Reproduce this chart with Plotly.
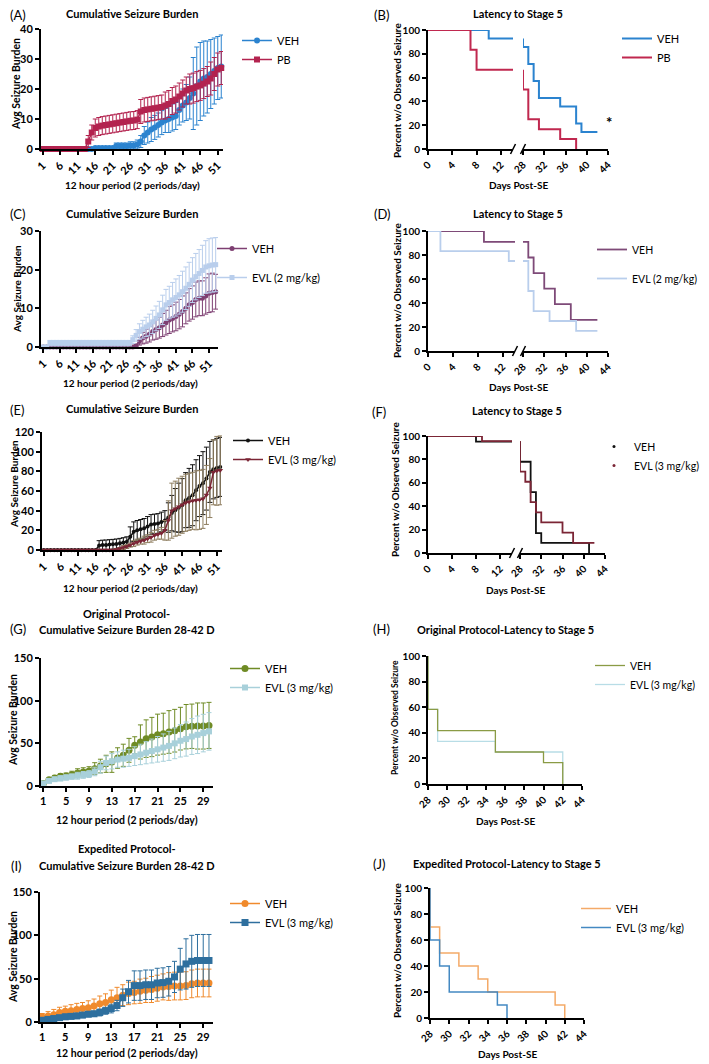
import plotly.graph_objects as go

W, H = 709, 1064
OX, OY = 8, 8  # page body margin: figure is drawn 8px in from the window corner
FONT = "Lato"

# ---------------- data ----------------
PERIODS_52 = list(range(1, 53))
PERIODS_53 = list(range(1, 54))
PERIODS_30 = list(range(1, 31))

TICKS_52 = [1, 6, 11, 16, 21, 26, 31, 36, 41, 46, 51]
TICKS_30 = [1, 5, 9, 13, 17, 21, 25, 29]
TICKS_EARLY = [0, 4, 8, 12]
TICKS_LATE = [28, 32, 36, 40, 44]
TICKS_28_44 = [28, 30, 32, 34, 36, 38, 40, 42, 44]

# (A) cumulative, VEH vs PB
A_VEH_MEAN = [0, 0, 0, 0, 0, 0, 0, 0, 0, 0, 0, 0, 0, 0, 0,
              0.3, 0.3, 0.3, 0.3, 0.3, 0.3,
              1.0, 1.0, 1.0, 1.0, 1.2, 1.2, 1.5,
              2.5, 4.5, 5.5, 6.5, 7.2, 8.0, 8.8, 9.5, 10.0, 10.5, 11.0, 13.0,
              14.5, 15.5, 17.0, 18.5, 21.0, 22.5, 23.5, 24.0, 25.0, 26.0, 27.0, 27.5]
A_VEH_SEM = [0, 0, 0, 0, 0, 0, 0, 0, 0, 0, 0, 0, 0, 0, 0,
             0.3, 0.3, 0.3, 0.3, 0.3, 0.3,
             1.0, 1.0, 1.0, 1.0, 1.2, 1.2, 1.5,
             2.0, 3.0, 3.5, 4.0, 4.0, 4.0, 4.0, 4.0, 4.5, 4.5, 4.5, 5.0,
             5.5, 6.0, 7.0, 12.0, 13.0, 13.0, 12.5, 12.0, 11.5, 11.0, 10.5, 10.5]
A_PB_MEAN = [0, 0, 0, 0, 0, 0, 0, 0, 0, 0, 0, 0, 0,
             2.5, 5.5, 7.0, 7.5, 7.8, 8.0, 8.2, 8.4, 8.6, 8.8, 9.0, 9.2, 9.4, 9.5, 9.8,
             12.5, 13.0, 13.2, 13.4, 13.6, 13.8, 14.0, 14.5, 15.0, 16.0, 16.5, 17.5,
             18.5, 19.5, 20.0, 20.3, 20.8, 21.2, 21.8, 22.5, 23.5, 25.0, 26.5, 27.0]
A_PB_SEM = [0, 0, 0, 0, 0, 0, 0, 0, 0, 0, 0, 0, 0,
            2.0, 2.5, 3.0, 3.0, 3.0, 3.0, 3.0, 3.0, 3.0, 3.0, 3.0, 3.0, 3.0, 3.0, 3.0,
            4.0, 4.0, 4.0, 4.0, 4.0, 4.0, 4.0, 4.5, 4.5, 4.5, 4.5, 4.5, 4.5, 4.5,
            5.0, 5.0, 5.0, 5.0, 5.0, 5.0, 5.5, 5.5, 5.5, 5.5]

# (B) latency, VEH vs PB (broken x axis)
B_VEH_EARLY_DAYS = [0, 10, 14]
B_VEH_EARLY_PCT = [100, 92.9, 92.9]
B_VEH_LATE_DAYS = [28, 28, 29, 30, 31, 35, 38, 39, 42]
B_VEH_LATE_PCT = [92.9, 85.7, 71.4, 57.1, 42.9, 35.7, 21.4, 14.3, 14.3]
B_PB_EARLY_DAYS = [0, 7, 8, 14]
B_PB_EARLY_PCT = [100, 83.3, 66.7, 66.7]
B_PB_LATE_DAYS = [28, 28, 29, 31, 35, 38]
B_PB_LATE_PCT = [66.7, 50, 25, 16.7, 8.3, 0]

# (C) cumulative, VEH vs EVL 2 mg/kg
C_VEH_MEAN = [0, 0, 0, 0, 0, 0, 0, 0, 0, 0, 0, 0, 0, 0, 0, 0, 0, 0, 0, 0,
              0, 0, 0, 0, 0, 0, 0, 0,
              0.3, 1.5, 2.3, 2.8, 3.3, 4.0, 4.5, 5.0, 5.7, 6.3, 7.0, 7.4, 7.9,
              8.5, 9.2, 10.0, 10.9, 11.5, 12.3, 12.6, 12.6, 13.2, 13.9, 14.1, 14.3]
C_VEH_SEM = [0, 0, 0, 0, 0, 0, 0, 0, 0, 0, 0, 0, 0, 0, 0, 0, 0, 0, 0, 0,
             0, 0, 0, 0, 0, 0, 0, 0,
             0.3, 1.0, 1.5, 1.8, 2.0, 2.2, 2.5, 2.7, 3.0, 3.2, 3.5, 3.5, 3.7,
             3.8, 4.0, 4.0, 4.2, 4.3, 4.5, 4.5, 4.5, 4.7, 5.0, 5.0, 4.5]
C_EVL_MEAN = [0, 0,
              1.0, 1.0, 1.0, 1.0, 1.0, 1.0, 1.0, 1.0, 1.0, 1.0, 1.0, 1.0, 1.0,
              1.0, 1.0, 1.0, 1.0, 1.0, 1.0, 1.0, 1.0, 1.0, 1.0, 1.0, 1.0,
              1.9, 3.0, 4.0, 4.6, 5.2, 5.7, 6.5, 7.4, 8.3, 9.6, 10.9, 11.5, 12.2,
              12.8, 13.5, 14.3, 15.2, 16.2, 17.3, 18.2, 19.0, 19.8, 20.7, 21.0, 21.2, 21.3]
C_EVL_SEM = [0, 0,
             0.7, 0.7, 0.7, 0.7, 0.7, 0.7, 0.7, 0.7, 0.7, 0.7, 0.7, 0.7, 0.7,
             0.7, 0.7, 0.7, 0.7, 0.7, 0.7, 0.7, 0.7, 0.7, 0.7, 0.7, 0.7,
             1.0, 1.5, 2.0, 2.3, 2.5, 2.8, 3.0, 3.2, 3.5, 3.8, 4.0, 4.2, 4.5,
             4.8, 5.0, 5.3, 5.5, 5.7, 5.8, 6.0, 6.2, 6.5, 6.8, 7.0, 7.0, 7.0]

# (D) latency, VEH vs EVL 2 mg/kg
D_VEH_EARLY_DAYS = [0, 9, 14]
D_VEH_EARLY_PCT = [100, 90.9, 90.9]
D_VEH_LATE_DAYS = [28, 29, 30, 32, 34, 37, 42]
D_VEH_LATE_PCT = [90.9, 77.9, 64.9, 51.9, 39.0, 26.0, 26.0]
D_EVL_EARLY_DAYS = [0, 2, 13, 14]
D_EVL_EARLY_PCT = [100, 83.3, 75, 75]
D_EVL_LATE_DAYS = [28, 29, 30, 33, 38, 42]
D_EVL_LATE_PCT = [75, 50, 33.3, 25, 16.7, 16.7]

# (E) cumulative, VEH vs EVL 3 mg/kg
E_VEH_MEAN = [0, 0, 0, 0, 0, 0, 0, 0, 0, 0, 0, 0, 0, 0, 0, 0,
              4.5, 5.0, 5.2, 5.5, 5.8, 6.2, 6.8, 7.5, 8.4,
              13.5, 18.6, 20.0, 21.0, 22.0, 24.0, 26.0, 26.5, 27.0, 28.5,
              30.0, 33.0, 37.5, 40.5, 43.0, 45.6, 50.7, 53.0, 55.7, 60.8,
              65.0, 68.0, 72.6, 79.4, 82.0, 83.5, 84.5]
E_VEH_SEM = [0, 0, 0, 0, 0, 0, 0, 0, 0, 0, 0, 0, 0, 0, 0, 0,
             5, 5, 5, 5, 5, 5, 5, 5, 5,
             10, 10, 10, 10, 10, 10, 10, 10, 10, 10, 10,
             15, 18, 22, 25, 27, 28, 30, 31, 31, 31, 32, 32, 31, 30, 30, 30]
E_EVL_MEAN = [0, 0, 0, 0, 0, 0, 0, 0, 0, 0, 0, 0, 0, 0, 0, 0, 0, 0, 0, 0, 0,
              0.5, 1.5, 2.5, 3.5, 5.0, 6.5, 8.0, 9.0, 10.0,
              11.5, 13.0, 15.0, 16.0, 17.0, 20.0, 30.0, 40.0, 42.0, 44.0,
              46.0, 48.0, 49.0, 50.0, 50.5, 51.0, 52.0, 56.0, 63.0, 79.0, 80.5, 81.0]
E_EVL_SEM = [0, 0, 0, 0, 0, 0, 0, 0, 0, 0, 0, 0, 0, 0, 0, 0, 0, 0, 0, 0, 0,
             1, 1, 2, 2, 2, 3, 3, 3,
             4, 4, 5, 5, 5, 6, 10,
             20, 28, 28, 29, 29, 29, 29, 29, 30, 30, 30, 30, 30, 33, 35, 35]

# (F) latency, VEH vs EVL 3 mg/kg
F_VEH_EARLY_DAYS = [0, 8, 14]
F_VEH_EARLY_PCT = [100, 95.2, 95.2]
F_VEH_LATE_DAYS = [28, 28, 30, 31, 32, 41]
F_VEH_LATE_PCT = [95.2, 78, 52, 17, 8.7, 0]
F_EVL_EARLY_DAYS = [0, 9, 14]
F_EVL_EARLY_PCT = [100, 95.7, 95.7]
F_EVL_LATE_DAYS = [28, 28, 29, 30, 31, 32, 36, 38, 42]
F_EVL_LATE_PCT = [95.7, 69.6, 60.9, 43.5, 34.8, 26.1, 17.4, 8.7, 8.7]

# (G) original protocol cumulative 28-42 D
G_VEH_MEAN = [3.0, 7.4, 9.4, 11.3, 11.7, 13.3, 15.2, 16.4, 17.6, 20.3,
              23.4, 26.0, 28.0, 32.8, 36.0, 41.8, 47.7, 51.6, 55.5, 57.4,
              60.2, 61.3, 63.3, 64.8, 67.2, 69.5, 70.0, 70.3, 70.3, 71.0]
G_VEH_SEM = [1, 2, 3, 3, 3.5, 4, 5, 5, 5, 7,
             8, 10, 12, 12, 13, 14, 10, 20, 22, 23,
             24, 24, 25, 25, 25, 26, 26, 27, 27, 27]
G_EVL_MEAN = [3, 6, 8, 9, 10, 11, 12, 13, 14, 17,
              22, 27, 29, 31, 32, 33, 35, 37, 39, 41,
              43, 45, 47, 50, 53, 55, 58, 60, 62, 64]
G_EVL_SEM = [1, 2, 2, 3, 3, 3, 4, 4, 4, 5,
             7, 8, 9, 9, 10, 10, 11, 12, 13, 14,
             15, 16, 17, 18, 19, 20, 21, 22, 22, 22]

# (H) original protocol latency
H_VEH_DAYS = [28, 28, 29, 35, 40, 42]
H_VEH_PCT = [100, 58.3, 41.7, 25, 16.7, 0]
H_EVL_DAYS = [28, 28, 29, 35, 42]
H_EVL_PCT = [100, 58.3, 33.3, 25, 0]

# (I) expedited protocol cumulative 28-42 D
I_VEH_MEAN = [5.8, 7.0, 8.5, 11.0, 12.3, 13.0, 14.5, 15.5, 16.5, 18.5,
              21.0, 22.5, 25.8, 28.0, 31.0, 33.0, 34.0, 35.5, 36.5, 37.5,
              39.0, 40.5, 41.0, 41.5, 41.5, 42.0, 44.0, 45.0, 45.0, 45.0]
I_VEH_SEM = [4, 5, 6, 6, 6, 7, 7, 7, 8, 8,
             9, 10, 11, 12, 12, 13, 13, 14, 14, 15,
             15, 15, 16, 16, 16, 16, 16, 16, 16, 16]
I_EVL_MEAN = [2, 3, 4, 5, 6, 6.5, 7, 8, 9, 9.5,
              11, 13, 15.5, 19, 28, 35, 42, 42, 43, 43,
              45, 45.5, 47, 52, 61, 67, 70, 71, 71, 71]
I_EVL_SEM = [2, 2, 2, 2, 3, 3, 3, 3, 3, 3,
             4, 4, 5, 6, 10, 13, 17, 17, 17, 17,
             17, 17, 17, 18, 24, 29, 30, 30, 30, 30]

# (J) expedited protocol latency
J_VEH_DAYS = [28, 28, 29, 31, 33, 34, 41, 42]
J_VEH_PCT = [100, 70, 50, 40, 30, 20, 10, 0]
J_EVL_DAYS = [28, 28, 29, 30, 35, 36]
J_EVL_PCT = [100, 60, 40, 20, 10, 0]


# ---------------- helpers (positions in window pixels) ----------------
def fx(x):
    return (x - OX) / W


def fy(y):
    return 1 - (y - OY) / H


def axis_base(size):
    return dict(showline=True, linecolor="black", linewidth=2, ticks="outside",
                ticklen=4, tickwidth=2, tickcolor="black", showgrid=False,
                zeroline=False, automargin=False, fixedrange=True,
                tickfont=dict(family=FONT, size=size, color="black", weight="bold"))


def make_x(left, right, anchor, rng, tickvals, angle, size=11):
    ax = axis_base(size)
    ax.update(domain=[fx(left), fx(right)], anchor=anchor, range=rng,
              tickmode="array", tickvals=tickvals, tickangle=angle)
    return ax


def make_y(top, bottom, anchor, rng, tickvals, size=11):
    ax = axis_base(size)
    ax.update(domain=[fy(bottom), fy(top)], anchor=anchor, range=rng,
              tickmode="array", tickvals=tickvals)
    return ax


def cum_trace(x, mean, sem, color, symbol, size, xa, ya, name, legend, err_color=None):
    minus = [min(s, m) for s, m in zip(sem, mean)]
    return go.Scatter(
        x=x, y=mean, mode="lines+markers", name=name, legend=legend,
        legendgroup=legend + name,
        line=dict(color=color, width=1.5),
        marker=dict(symbol=symbol, size=size, color=color),
        error_y=dict(type="data", array=sem, arrayminus=minus,
                     color=err_color or color, thickness=1, width=2.5),
        xaxis=xa, yaxis=ya, cliponaxis=False)


def surv(days, pct, color, width, xa, ya, name, legend, show=True, rank=1000):
    return go.Scatter(
        x=days, y=pct, mode="lines", name=name, legend=legend,
        legendgroup=legend + name, showlegend=show, legendrank=rank,
        line=dict(color=color, width=width, shape="hv"),
        xaxis=xa, yaxis=ya, cliponaxis=False)


def make_legend(text_x, first_y, gap=0, size=11):
    return dict(x=fx(text_x - 40), y=fy(first_y - 13), xanchor="left",
                yanchor="top", bgcolor="rgba(0,0,0,0)", itemwidth=30,
                tracegroupgap=gap,
                font=dict(family=FONT, size=size, color="black"))


def note(text, x, y, size, bold=True, xanchor="center", angle=0):
    return dict(text=f"<b>{text}</b>" if bold else text, x=fx(x), y=fy(y),
                xref="paper", yref="paper", showarrow=False, xanchor=xanchor,
                yanchor="middle", textangle=angle,
                font=dict(family=FONT, size=size, color="black"))


def slash(x, y):
    return dict(type="line", xref="paper", yref="paper",
                x0=fx(x - 2.5), y0=fy(y + 5), x1=fx(x + 2.5), y1=fy(y - 5),
                line=dict(color="black", width=1.5))


# ---------------- figure ----------------
fig = go.Figure()

BLUE, CRIMSON = "#2B83CF", "#B3234F"
PURPLE, PALE_BLUE = "#7E3F72", "#B9CEEC"
BLACK, MAROON, TAN = "#111111", "#7B2535", "#8E7D5E"
OLIVE, TEAL = "#6F8B25", "#A8D0DA"
ORANGE, STEEL = "#F08A2C", "#2E6F9E"

# A
fig.add_trace(cum_trace(PERIODS_52, A_VEH_MEAN, A_VEH_SEM, BLUE, "circle", 6, "x", "y", "VEH", "legend"))
fig.add_trace(cum_trace(PERIODS_52, A_PB_MEAN, A_PB_SEM, CRIMSON, "square", 6, "x", "y", "PB", "legend"))

# B
fig.add_trace(surv(B_VEH_EARLY_DAYS, B_VEH_EARLY_PCT, BLUE, 2, "x2", "y2", "VEH", "legend2"))
fig.add_trace(surv(B_VEH_LATE_DAYS, B_VEH_LATE_PCT, BLUE, 2, "x3", "y2", "VEH", "legend2", False))
fig.add_trace(surv(B_PB_EARLY_DAYS, B_PB_EARLY_PCT, "#C0284F", 2, "x2", "y2", "PB", "legend2"))
fig.add_trace(surv(B_PB_LATE_DAYS, B_PB_LATE_PCT, "#C0284F", 2, "x3", "y2", "PB", "legend2", False))

# C
fig.add_trace(cum_trace(PERIODS_53, C_VEH_MEAN, C_VEH_SEM, PURPLE, "circle", 5, "x4", "y3", "VEH", "legend3"))
fig.add_trace(cum_trace(PERIODS_53, C_EVL_MEAN, C_EVL_SEM, PALE_BLUE, "square", 5, "x4", "y3", "EVL (2 mg/kg)", "legend3"))

# D
fig.add_trace(surv(D_VEH_EARLY_DAYS, D_VEH_EARLY_PCT, "#7E4A78", 1.8, "x5", "y4", "VEH", "legend4"))
fig.add_trace(surv(D_VEH_LATE_DAYS, D_VEH_LATE_PCT, "#7E4A78", 1.8, "x6", "y4", "VEH", "legend4", False))
fig.add_trace(surv(D_EVL_EARLY_DAYS, D_EVL_EARLY_PCT, PALE_BLUE, 1.8, "x5", "y4", "EVL (2 mg/kg)", "legend4"))
fig.add_trace(surv(D_EVL_LATE_DAYS, D_EVL_LATE_PCT, PALE_BLUE, 1.8, "x6", "y4", "EVL (2 mg/kg)", "legend4", False))

# E
fig.add_trace(cum_trace(PERIODS_52, E_VEH_MEAN, E_VEH_SEM, BLACK, "circle", 4, "x7", "y5", "VEH", "legend5"))
fig.add_trace(cum_trace(PERIODS_52, E_EVL_MEAN, E_EVL_SEM, MAROON, "triangle-down", 5, "x7", "y5", "EVL (3 mg/kg)", "legend5", TAN))

# F
fig.add_trace(surv(F_VEH_EARLY_DAYS, F_VEH_EARLY_PCT, BLACK, 1.8, "x8", "y6", "VEH", "legend6", False))
fig.add_trace(surv(F_VEH_LATE_DAYS, F_VEH_LATE_PCT, BLACK, 1.8, "x9", "y6", "VEH", "legend6", False))
fig.add_trace(surv(F_EVL_EARLY_DAYS, F_EVL_EARLY_PCT, MAROON, 1.8, "x8", "y6", "EVL (3 mg/kg)", "legend6", False))
fig.add_trace(surv(F_EVL_LATE_DAYS, F_EVL_LATE_PCT, MAROON, 1.8, "x9", "y6", "EVL (3 mg/kg)", "legend6", False))
fig.add_trace(go.Scatter(x=[None], y=[None], mode="markers", name="VEH", legend="legend6",
                         legendgroup="l6a", marker=dict(color=BLACK, size=3), xaxis="x9", yaxis="y6"))
fig.add_trace(go.Scatter(x=[None], y=[None], mode="markers", name="EVL (3 mg/kg)", legend="legend6",
                         legendgroup="l6b", marker=dict(color=MAROON, size=3), xaxis="x9", yaxis="y6"))

# G
fig.add_trace(cum_trace(PERIODS_30, G_VEH_MEAN, G_VEH_SEM, OLIVE, "circle", 7, "x10", "y7", "VEH", "legend7"))
fig.add_trace(cum_trace(PERIODS_30, G_EVL_MEAN, G_EVL_SEM, TEAL, "square", 6, "x10", "y7", "EVL (3 mg/kg)", "legend7"))

# H
fig.add_trace(surv(H_EVL_DAYS, H_EVL_PCT, "#B8DDE6", 1.3, "x11", "y8", "EVL (3 mg/kg)", "legend8", rank=2))
fig.add_trace(surv(H_VEH_DAYS, H_VEH_PCT, "#8A9B45", 1.3, "x11", "y8", "VEH", "legend8", rank=1))

# I
fig.add_trace(cum_trace(PERIODS_30, I_VEH_MEAN, I_VEH_SEM, ORANGE, "circle", 7, "x12", "y9", "VEH", "legend9"))
fig.add_trace(cum_trace(PERIODS_30, I_EVL_MEAN, I_EVL_SEM, STEEL, "square", 7, "x12", "y9", "EVL (3 mg/kg)", "legend9"))

# J
fig.add_trace(surv(J_VEH_DAYS, J_VEH_PCT, "#F4AA68", 1.5, "x13", "y10", "VEH", "legend10"))
fig.add_trace(surv(J_EVL_DAYS, J_EVL_PCT, "#4489C2", 1.5, "x13", "y10", "EVL (3 mg/kg)", "legend10"))

PCT_TICKS = [0, 20, 40, 60, 80, 100]
axes = dict(
    xaxis=make_x(41, 223, "y", [0.5, 52.5], TICKS_52, -45),
    yaxis=make_y(29, 149, "x", [0, 40], [0, 10, 20, 30, 40]),
    xaxis2=make_x(428, 513, "y2", [0, 14], TICKS_EARLY, -45, 10),
    xaxis3=make_x(523, 608, "y2", [28, 44], TICKS_LATE, -45, 10),
    yaxis2=make_y(30, 149, "x2", [0, 100], PCT_TICKS, 10),
    xaxis4=make_x(41, 218, "y3", [0.3, 53.7], TICKS_52, -45),
    yaxis3=make_y(231, 347, "x4", [0, 30], [0, 10, 20, 30]),
    xaxis5=make_x(428, 515, "y4", [0, 14], TICKS_EARLY, -45, 10),
    xaxis6=make_x(523, 608, "y4", [28, 44], TICKS_LATE, -45, 10),
    yaxis4=make_y(231, 351, "x5", [0, 100], PCT_TICKS, 10),
    xaxis7=make_x(42, 222, "y5", [0.5, 52.5], TICKS_52, -45),
    yaxis5=make_y(432, 550, "x7", [0, 120], [0, 20, 40, 60, 80, 100, 120]),
    xaxis8=make_x(428, 512, "y6", [0, 14], TICKS_EARLY, -45, 10),
    xaxis9=make_x(520, 605, "y6", [28, 44], TICKS_LATE, -45, 10),
    yaxis6=make_y(436, 553, "x8", [0, 100], PCT_TICKS, 10),
    xaxis10=make_x(41, 213, "y7", [0.6, 30.7], TICKS_30, 0),
    yaxis7=make_y(658, 786, "x10", [0, 150], [0, 50, 100, 150]),
    xaxis11=make_x(428, 582, "y8", [28, 44], TICKS_28_44, -45, 10),
    yaxis8=make_y(656, 784, "x11", [0, 100], PCT_TICKS, 10),
    xaxis12=make_x(40, 213, "y9", [0.6, 30.7], TICKS_30, 0),
    yaxis9=make_y(892, 1022, "x12", [0, 150], [0, 50, 100, 150]),
    xaxis13=make_x(430, 584, "y10", [28, 44], TICKS_28_44, -45, 10),
    yaxis10=make_y(888, 1018, "x13", [0, 100], PCT_TICKS, 10),
)

legends = dict(
    legend=make_legend(277, 39),
    legend2=make_legend(657, 37),
    legend3=make_legend(252, 247, 10),
    legend4=make_legend(632, 248, 10, 10.5),
    legend5=make_legend(268, 439),
    legend6=make_legend(634, 445, 0, 10.5),
    legend7=make_legend(265, 667),
    legend8=make_legend(630, 664, 0, 10.5),
    legend9=make_legend(265, 902),
    legend10=make_legend(616, 907),
)

CUM_Y = "Avg Seizure Burden"
LAT_Y = "Percent w/o Observed Seizure"
PERIOD_X = "12 hour period (2 periods/day)"
DAYS_X = "Days Post-SE"

annotations = [
    # panel letters
    note("(A)", 8, 15, 13, False, "left"),
    note("(B)", 372, 15, 13, False, "left"),
    note("(C)", 8, 214, 13, False, "left"),
    note("(D)", 372, 214, 13, False, "left"),
    note("(E)", 8, 410, 13, False, "left"),
    note("(F)", 370, 412, 13, False, "left"),
    note("(G)", 8, 629, 13, False, "left"),
    note("(H)", 371, 629, 13, False, "left"),
    note("(I)", 9, 866, 13, False, "left"),
    note("(J)", 371, 864, 13, False, "left"),
    # titles
    note("Cumulative Seizure Burden", 132, 14, 11),
    note("Latency to Stage 5", 518, 14, 11),
    note("Cumulative Seizure Burden", 132, 213, 11),
    note("Latency to Stage 5", 518, 213, 11),
    note("Cumulative Seizure Burden", 132, 409, 11),
    note("Latency to Stage 5", 517, 410, 11),
    note("Original Protocol-", 127, 613, 11),
    note("Cumulative Seizure Burden 28-42 D", 127, 629, 11),
    note("Original Protocol-Latency to Stage 5", 505, 629, 11),
    note("Expedited Protocol-", 127, 848, 11),
    note("Cumulative Seizure Burden 28-42 D", 127, 865, 11),
    note("Expedited Protocol-Latency to Stage 5", 507, 863, 11),
    # x titles
    note(PERIOD_X, 132, 185, 10),
    note(DAYS_X, 518, 185, 10),
    note(PERIOD_X, 130, 383, 10),
    note(DAYS_X, 518, 387, 10),
    note(PERIOD_X, 130, 588, 10),
    note(DAYS_X, 515, 590, 10),
    note(PERIOD_X, 127, 820, 10.5),
    note(DAYS_X, 505, 821, 10),
    note(PERIOD_X, 127, 1053, 10.5),
    note(DAYS_X, 507, 1054, 10),
    # y titles
    note(CUM_Y, 16, 84, 10.5, angle=-90),
    note(LAT_Y, 397, 91, 10, angle=-90),
    note(CUM_Y, 17, 289, 10, angle=-90),
    note(LAT_Y, 397, 291, 10, angle=-90),
    note(CUM_Y, 14, 484, 10, angle=-90),
    note(LAT_Y, 395, 490, 10, angle=-90),
    note(CUM_Y, 13, 720, 10.5, angle=-90),
    note(LAT_Y, 395, 718, 8.5, angle=-90),
    note(CUM_Y, 13, 957, 10.5, angle=-90),
    note(LAT_Y, 397, 951, 10, angle=-90),
    # significance mark
    note("*", 609, 122, 15),
]

shapes = [slash(513, 149), slash(523, 149),
          slash(515, 351), slash(523, 351),
          slash(512, 553), slash(520, 553)]

fig.update_layout(
    width=W, height=H,
    template="none",
    margin=dict(l=0, r=0, t=0, b=0),
    paper_bgcolor="white",
    plot_bgcolor="rgba(0,0,0,0)",
    font=dict(family=FONT, size=11, color="black"),
    annotations=annotations,
    shapes=shapes,
    **axes,
    **legends,
)

fig.write_html("out.html")
